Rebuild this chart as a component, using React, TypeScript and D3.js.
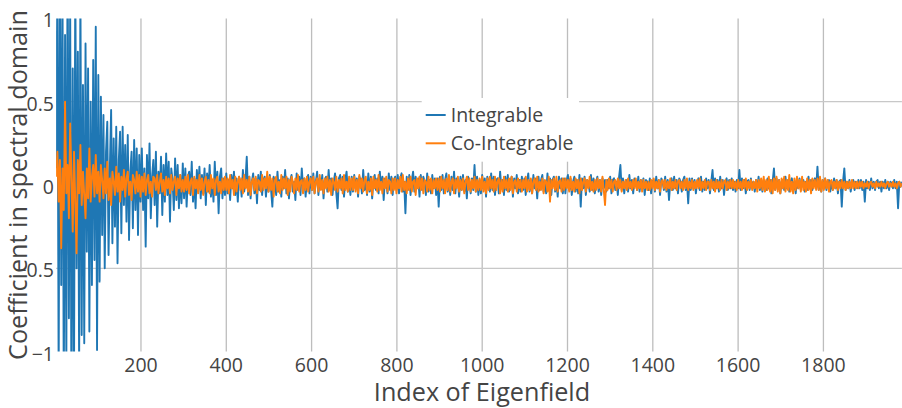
import React from "react";
import * as d3 from "d3";

// Coefficients, sampled every 3rd eigenfield index starting at index 1
const integrable: number[] = [
  // 1-100
  0.1, 1.3, -1.2, 1.4, -0.6, 1.2, -1.3, 0.9, -1.1, 1.5, -0.8, 1.1, -1.4, 0.7, -1.2, 1.3, -0.5, 0.8, -1.1, 1.2, -0.9, 0.6, -0.95, 0.85, -0.4, 0.7, -0.88, 0.5, -0.6, 0.75, -0.45, 0.95, -0.99, 0.66,
  // 103-199
  -0.58, 0.53, -0.3, 0.42, -0.5, 0.2, 0.38, -0.42, 0.1, 0.45, -0.35, 0.28, -0.25, 0.35, -0.47, 0.15, 0.32, -0.29, 0.35, -0.12, 0.24, -0.22, 0.3, -0.33, 0.08, 0.2, -0.26, 0.27, -0.15, 0.22, -0.3, 0.18, -0.1,
  // 202-298
  0.22, -0.15, 0.1, -0.37, 0.18, -0.08, 0.25, -0.2, 0.05, 0.15, -0.12, 0.2, -0.25, 0.08, -0.05, 0.17, -0.18, 0.12, -0.1, 0.19, -0.06, 0.14, -0.22, 0.1, 0.03, -0.15, 0.16, -0.09, 0.12, -0.14, 0.06, -0.11, 0.13,
  // 301-397
  -0.08, 0.1, -0.13, 0.05, 0.08, -0.06, 0.14, -0.1, 0.04, -0.14, 0.09, -0.03, 0.11, -0.08, 0.06, -0.05, 0.1, -0.12, 0.07, -0.04, 0.12, -0.07, 0.03, -0.1, 0.14, -0.06, 0.08, -0.17, 0.05, 0.1, -0.08, 0.04, -0.06,
  // 400-496
  0.07, -0.05, 0.03, -0.09, 0.06, -0.02, 0.08, -0.06, 0.04, -0.1, 0.05, 0.02, -0.07, 0.09, -0.04, 0.03, 0.17, -0.06, 0.05, -0.08, 0.02, 0.07, -0.05, 0.04, -0.11, 0.06, -0.03, 0.08, -0.06, 0.03, 0.05, -0.07, 0.04,
  // 499-595
  -0.04, 0.06, -0.03, -0.13, 0.05, 0.02, -0.06, 0.08, -0.04, 0.03, -0.07, 0.05, -0.02, 0.09, -0.05, 0.04, -0.08, 0.03, 0.06, -0.04, 0.02, -0.09, 0.07, -0.03, 0.05, -0.06, 0.1, -0.02, 0.04, -0.07, 0.03, 0.06, -0.05,
  // 598-694
  0.05, -0.03, 0.07, -0.05, 0.02, 0.08, -0.06, 0.04, -0.02, 0.06, -0.08, 0.03, 0.05, -0.04, 0.09, -0.03, 0.04, -0.06, 0.02, 0.07, -0.05, -0.14, 0.04, 0.06, -0.03, 0.05, -0.07, 0.03, 0.08, -0.04, 0.02, -0.06, 0.05,
  // 697-793
  -0.04, 0.06, -0.02, 0.04, -0.07, 0.05, 0.03, -0.05, 0.09, -0.03, 0.02, -0.06, 0.07, -0.04, 0.05, -0.08, 0.03, 0.06, -0.03, 0.04, -0.05, 0.08, -0.02, 0.05, -0.09, 0.04, 0.02, -0.05, 0.07, -0.03, 0.05, -0.06, 0.03,
  // 796-892
  0.05, -0.03, 0.06, -0.05, 0.04, 0.07, -0.04, 0.02, -0.17, 0.05, -0.03, 0.06, -0.06, 0.03, 0.08, -0.04, 0.05, -0.02, 0.04, -0.07, 0.06, -0.03, 0.05, 0.02, -0.06, 0.07, -0.04, 0.03, -0.05, 0.06, -0.02, 0.04, -0.06,
  // 895-991
  0.04, -0.13, 0.05, -0.03, 0.06, -0.05, 0.03, 0.07, -0.04, 0.02, -0.06, 0.05, -0.03, 0.08, -0.05, 0.04, 0.02, -0.07, 0.05, -0.03, 0.06, -0.04, 0.03, -0.08, 0.05, 0.02, -0.05, 0.04, -0.03, 0.12, -0.04, 0.05, -0.06,
  // 994-1090
  0.03, -0.05, 0.06, -0.02, 0.04, -0.07, 0.05, 0.02, -0.04, 0.07, -0.03, 0.05, -0.06, 0.03, 0.04, -0.05, 0.08, -0.02, 0.03, -0.06, 0.05, -0.03, 0.06, -0.04, 0.02, 0.05, -0.07, 0.04, -0.02, 0.06, -0.05, 0.03, -0.04,
  // 1093-1189
  0.05, -0.03, 0.04, -0.06, 0.02, 0.07, -0.04, 0.03, -0.05, 0.06, -0.02, 0.04, -0.08, 0.05, -0.03, 0.03, 0.06, -0.04, 0.02, -0.05, 0.07, -0.03, 0.04, -0.06, 0.03, 0.05, -0.04, 0.02, -0.07, 0.05, -0.02, 0.04, -0.05,
  // 1192-1288
  0.04, -0.05, 0.03, 0.06, -0.03, 0.04, -0.06, 0.02, 0.05, -0.04, 0.03, -0.05, 0.06, -0.13, 0.04, -0.02, 0.05, -0.06, 0.03, 0.02, -0.04, 0.06, -0.03, 0.04, -0.05, 0.02, 0.05, -0.04, 0.03, -0.06, 0.04, -0.02, 0.03,
  // 1291-1387
  -0.04, 0.03, -0.02, 0.05, -0.05, 0.03, 0.04, -0.03, 0.02, -0.06, 0.05, 0.12, -0.03, 0.04, -0.05, 0.02, 0.03, -0.04, 0.06, -0.02, 0.03, -0.05, 0.04, 0.02, -0.03, 0.05, -0.04, 0.03, -0.02, 0.04, -0.06, 0.03, 0.02,
  // 1390-1486
  -0.03, 0.04, -0.05, 0.02, 0.03, -0.04, 0.05, -0.02, 0.03, -0.06, 0.04, 0.02, -0.03, 0.05, -0.04, 0.03, -0.09, 0.02, 0.04, -0.03, 0.05, -0.02, 0.03, -0.05, 0.04, 0.02, -0.04, 0.03, 0.05, -0.03, 0.02, -0.11, 0.04,
  // 1489-1585
  -0.03, 0.04, -0.02, 0.03, -0.05, 0.02, 0.04, -0.03, 0.05, -0.04, 0.02, -0.03, 0.04, -0.02, 0.03, -0.05, 0.02, 0.09, -0.03, 0.04, -0.02, 0.03, -0.04, 0.05, -0.02, 0.03, -0.06, 0.02, 0.04, -0.03, 0.03, -0.02, 0.04,
  // 1588-1684
  -0.03, 0.02, -0.04, 0.03, -0.02, 0.09, -0.03, 0.04, -0.02, 0.03, -0.05, 0.02, 0.03, -0.03, 0.04, -0.02, 0.02, -0.04, 0.03, -0.02, 0.05, -0.03, 0.02, -0.04, 0.03, 0.02, -0.03, 0.04, -0.02, 0.03, -0.05, 0.02, 0.1,
  // 1687-1783
  -0.03, 0.04, -0.02, 0.03, -0.05, 0.02, 0.03, -0.03, 0.05, -0.02, 0.03, -0.04, 0.02, 0.04, -0.03, 0.02, -0.05, 0.03, -0.02, 0.04, -0.03, 0.02, 0.03, -0.04, 0.02, -0.03, 0.05, -0.02, 0.03, -0.03, 0.02, 0.04, -0.02,
  // 1786-1882
  0.11, -0.03, 0.02, -0.04, 0.03, -0.02, 0.04, -0.03, 0.02, 0.03, -0.04, 0.02, -0.03, 0.04, -0.02, 0.03, -0.05, 0.02, 0.03, -0.13, 0.02, 0.1, -0.03, 0.02, -0.02, 0.03, -0.04, 0.02, 0.03, -0.03, 0.02, -0.02, 0.03,
  // 1885-1984
  -0.02, 0.03, -0.03, 0.02, -0.1, 0.03, -0.02, 0.02, -0.03, 0.04, -0.02, 0.02, -0.03, 0.02, 0.03, -0.02, 0.02, -0.04, 0.02, -0.02, 0.03, -0.02, 0.02, -0.03, 0.02, 0.01, -0.02, 0.03, -0.02, 0.02, -0.14, 0.02, -0.01, 0.02,
];

const coIntegrable: number[] = [
  // 1-100
  0.05, 0.2, -0.1, 0.15, -0.38, 0.1, -0.15, 0.5, -0.05, 0.12, -0.2, 0.37, 0.05, -0.28, 0.2, -0.1, -0.41, 0.15, -0.05, 0.24, -0.12, 0.08, -0.06, -0.2, 0.1, -0.08, 0.22, -0.1, 0.05, 0.12, -0.07, 0.18, -0.05, 0.08,
  // 103-199
  -0.1, 0.12, 0.03, -0.08, 0.1, -0.05, 0.14, -0.09, 0.04, -0.12, 0.08, 0.02, -0.06, 0.11, -0.04, 0.07, -0.1, 0.05, -0.03, 0.09, -0.07, 0.04, 0.08, -0.06, 0.02, -0.09, 0.06, 0.03, -0.05, 0.08, -0.04, 0.06, -0.07,
  // 202-298
  0.05, -0.04, 0.07, -0.06, 0.03, 0.06, -0.05, 0.02, -0.07, 0.05, 0.04, -0.03, 0.06, -0.05, 0.02, 0.07, -0.04, 0.03, -0.06, 0.05, -0.02, 0.04, -0.05, 0.06, -0.03, 0.02, 0.05, -0.06, 0.04, -0.02, 0.06, -0.04, 0.03,
  // 301-397
  -0.04, 0.05, -0.03, 0.06, -0.05, 0.02, 0.04, -0.06, 0.05, -0.02, 0.03, -0.05, 0.06, -0.03, 0.04, -0.06, 0.02, 0.05, -0.04, 0.03, -0.05, 0.06, -0.02, 0.04, -0.06, 0.03, 0.05, -0.04, 0.02, -0.05, 0.04, -0.03, 0.05,
  // 400-496
  -0.03, 0.04, -0.05, 0.06, -0.02, 0.03, -0.06, 0.05, -0.04, 0.02, 0.05, -0.03, 0.04, -0.05, 0.06, -0.02, 0.03, -0.04, 0.05, -0.06, 0.02, 0.04, -0.03, 0.05, -0.05, 0.03, 0.02, -0.04, 0.06, -0.03, 0.04, -0.02, 0.08,
  // 499-595
  -0.04, 0.05, -0.03, 0.04, -0.07, 0.03, 0.05, -0.04, 0.02, -0.05, 0.06, -0.03, 0.04, -0.02, 0.05, -0.06, 0.03, -0.04, 0.05, 0.02, -0.05, 0.04, -0.03, 0.06, -0.04, 0.02, 0.03, -0.05, 0.04, -0.03, 0.05, -0.04, 0.02,
  // 598-694
  0.04, -0.03, 0.05, -0.05, 0.02, 0.04, -0.04, 0.06, -0.03, 0.03, -0.05, 0.04, -0.02, 0.05, -0.04, 0.03, -0.06, 0.04, 0.02, -0.03, 0.05, -0.04, 0.03, -0.02, 0.04, -0.05, 0.06, -0.03, 0.02, -0.04, 0.05, -0.03, 0.04,
  // 697-793
  -0.03, 0.05, -0.04, 0.03, -0.05, 0.06, -0.02, 0.04, -0.04, 0.03, 0.05, -0.05, 0.02, -0.03, 0.04, -0.06, 0.05, -0.02, 0.03, -0.04, 0.06, -0.03, 0.02, -0.05, 0.04, -0.02, 0.05, -0.04, 0.03, 0.02, -0.05, 0.04, -0.03,
  // 796-892
  0.04, -0.05, 0.03, -0.02, 0.05, -0.04, 0.06, -0.03, 0.02, -0.05, 0.04, -0.03, 0.05, -0.04, 0.02, 0.03, -0.06, 0.04, -0.02, 0.05, -0.03, 0.04, -0.05, 0.03, 0.02, -0.04, 0.05, -0.03, 0.04, -0.05, 0.03, -0.02, 0.04,
  // 895-991
  -0.03, 0.04, -0.04, 0.05, -0.02, 0.03, -0.05, 0.04, -0.03, 0.06, -0.04, 0.02, 0.04, -0.05, 0.03, -0.02, 0.05, -0.04, 0.03, -0.03, 0.04, -0.05, 0.02, 0.05, -0.03, 0.04, -0.04, 0.03, -0.02, 0.05, -0.04, 0.03, -0.03,
  // 994-1090
  0.04, -0.03, 0.05, -0.04, 0.02, -0.05, 0.04, -0.03, 0.05, -0.02, 0.03, -0.04, 0.05, -0.03, 0.02, 0.04, -0.05, 0.03, -0.04, 0.05, -0.02, 0.03, -0.04, 0.04, -0.03, 0.05, -0.05, 0.02, 0.03, -0.04, 0.04, -0.02, 0.03,
  // 1093-1189
  -0.04, 0.03, -0.02, 0.05, -0.04, 0.03, -0.03, 0.04, -0.05, 0.02, 0.04, -0.03, 0.05, -0.04, 0.02, -0.03, 0.04, -0.05, 0.03, 0.02, -0.04, 0.05, -0.1, 0.03, -0.02, 0.04, -0.03, 0.05, -0.04, 0.02, 0.03, -0.04, 0.04,
  // 1192-1288
  -0.03, 0.04, -0.02, 0.03, -0.04, 0.05, -0.03, 0.02, -0.04, 0.04, -0.02, 0.03, -0.05, 0.04, -0.03, 0.02, 0.04, -0.04, 0.03, -0.02, 0.05, -0.03, 0.02, -0.04, 0.03, -0.03, 0.04, -0.02, 0.03, -0.04, 0.05, -0.03, -0.12,
  // 1291-1387
  0.03, -0.03, 0.04, -0.02, 0.03, -0.04, 0.02, 0.03, -0.03, 0.04, -0.02, 0.03, -0.04, 0.02, -0.02, 0.03, -0.03, 0.04, -0.02, 0.02, -0.03, 0.03, -0.02, 0.04, -0.03, 0.02, -0.02, 0.03, -0.04, 0.03, -0.02, 0.02, -0.03,
  // 1390-1486
  0.02, -0.03, 0.03, -0.02, 0.04, -0.03, 0.02, -0.02, 0.03, -0.04, 0.02, 0.03, -0.02, 0.03, -0.03, 0.02, -0.02, 0.04, -0.03, 0.02, -0.02, 0.03, -0.03, 0.02, 0.03, -0.02, 0.02, -0.03, 0.03, -0.02, 0.04, -0.03, 0.02,
  // 1489-1585
  -0.02, 0.03, -0.03, 0.02, -0.02, 0.03, -0.02, 0.04, -0.03, 0.02, -0.02, 0.03, -0.03, 0.02, 0.02, -0.03, 0.03, -0.02, 0.02, -0.04, 0.03, -0.02, 0.02, -0.03, 0.03, -0.02, 0.02, 0.03, -0.03, 0.02, -0.02, 0.03, -0.02,
  // 1588-1684
  0.03, -0.02, 0.02, -0.03, 0.03, -0.02, 0.02, -0.03, 0.03, -0.02, 0.04, -0.03, 0.02, -0.02, 0.03, -0.03, 0.02, -0.02, 0.03, -0.04, 0.03, -0.02, 0.04, -0.03, 0.05, -0.04, 0.03, -0.03, 0.05, -0.04, 0.03, -0.05, 0.04,
  // 1687-1783
  -0.03, 0.05, -0.04, 0.03, -0.05, 0.04, -0.02, 0.05, -0.04, 0.03, -0.03, 0.06, -0.04, 0.02, -0.05, 0.04, -0.03, 0.05, -0.02, 0.03, -0.04, 0.05, -0.03, 0.02, -0.04, 0.04, -0.03, 0.03, -0.05, 0.04, -0.02, 0.03, -0.03,
  // 1786-1882
  0.04, -0.03, 0.05, -0.04, 0.03, -0.03, 0.04, -0.02, 0.03, -0.04, 0.02, 0.03, -0.03, 0.02, -0.02, 0.03, -0.03, 0.02, -0.02, 0.03, -0.02, 0.02, -0.03, 0.02, -0.02, 0.02, -0.02, 0.03, -0.02, 0.02, -0.02, 0.02, -0.02,
  // 1885-1984
  0.02, -0.01, 0.02, -0.02, 0.01, -0.01, 0.02, -0.02, 0.01, 0.02, -0.01, 0.01, -0.02, 0.02, -0.01, 0.01, -0.01, 0.02, -0.01, 0.01, -0.02, 0.01, 0.02, -0.01, 0.01, -0.01, 0.02, -0.01, 0.01, -0.02, 0.01, 0.02, -0.01, 0.01,
];

const INDEX_START = 1;
const INDEX_STEP = 3;
const xTicks = [200, 400, 600, 800, 1000, 1200, 1400, 1600, 1800];
const yTicks = [-1, -0.5, 0, 0.5, 1];
const yGrid = [-0.5, 0.5];
const yTickLabels = ["\u22121", "\u22120.5", "0", "0.5", "1"];
const seriesNames = ["Integrable", "Co-Integrable"];
const seriesColors = ["#1f77b4", "#ff7f0e"];
const xTitle = "Index of Eigenfield";
const yTitle = "Coefficient in spectral domain";

const FONT = '"Open Sans", verdana, arial, sans-serif';

export default function App() {
  const W = 902;
  const H = 408;
  const left = 56.1;
  const right = 901.9;
  const top = 18.4;
  const bottom = 351.6;

  const x = d3.scaleLinear().domain([1, 1984]).range([left, right]);
  const y = d3.scaleLinear().domain([-1, 1]).range([bottom, top]);

  const line = d3
    .line<number>()
    .x((_, i) => x(INDEX_START + INDEX_STEP * i))
    .y((d) => y(d));

  const series = [integrable, coIntegrable];

  const legendX = 421.7;
  const legendY = 98;

  return (
    <svg
      width={W}
      height={H}
      style={{ position: "absolute", left: 0, top: 0, background: "#fff" }}
      fontFamily={FONT}
    >
      <defs>
        <clipPath id="plotclip">
          <rect x={left} y={top} width={right - left} height={bottom - top} />
        </clipPath>
      </defs>
      {/* grid */}
      {xTicks.map((t) => (
        <line key={"gx" + t} x1={x(t)} x2={x(t)} y1={top} y2={bottom} stroke="#bdbdbd" strokeWidth={1.3} />
      ))}
      {yGrid.map((t) => (
        <line key={"gy" + t} x1={left} x2={right} y1={y(t)} y2={y(t)} stroke="#c8c8c8" strokeWidth={1.3} />
      ))}
      {/* data */}
      <g clipPath="url(#plotclip)">
        {series.map((s, k) => (
          <path key={k} d={line(s) || ""} fill="none" stroke={seriesColors[k]} strokeWidth={1.9} strokeLinejoin="round" />
        ))}
      </g>
      {/* legend */}
      <rect x={legendX} y={legendY} width={157.3} height={63.7} fill="#fff" />
      {seriesNames.map((n, k) => (
        <g key={n} transform={`translate(${legendX + 4},${legendY + 17 + k * 28.3})`}>
          <line x1={0} x2={20} y1={0} y2={0} stroke={seriesColors[k]} strokeWidth={2} />
          <text x={25} y={7} fontSize={19.5} fill="#444">
            {n}
          </text>
        </g>
      ))}
      {/* y tick labels */}
      {yTicks.map((t, i) => (
        <text key={"yt" + t} x={54} y={y(t) + 9} textAnchor="end" fontSize={19.5} fill="#444">
          {yTickLabels[i]}
        </text>
      ))}
      {/* x tick labels */}
      {xTicks.map((t) => (
        <text key={"xt" + t} x={x(t)} y={372} textAnchor="middle" fontSize={19.5} fill="#444">
          {t}
        </text>
      ))}
      {/* axis titles */}
      <text x={482} y={401} textAnchor="middle" fontSize={25.2} fill="#444">
        {xTitle}
      </text>
      <text transform={`translate(27,185) rotate(-90)`} textAnchor="middle" fontSize={25.2} fill="#444">
        {yTitle}
      </text>
    </svg>
  );
}
